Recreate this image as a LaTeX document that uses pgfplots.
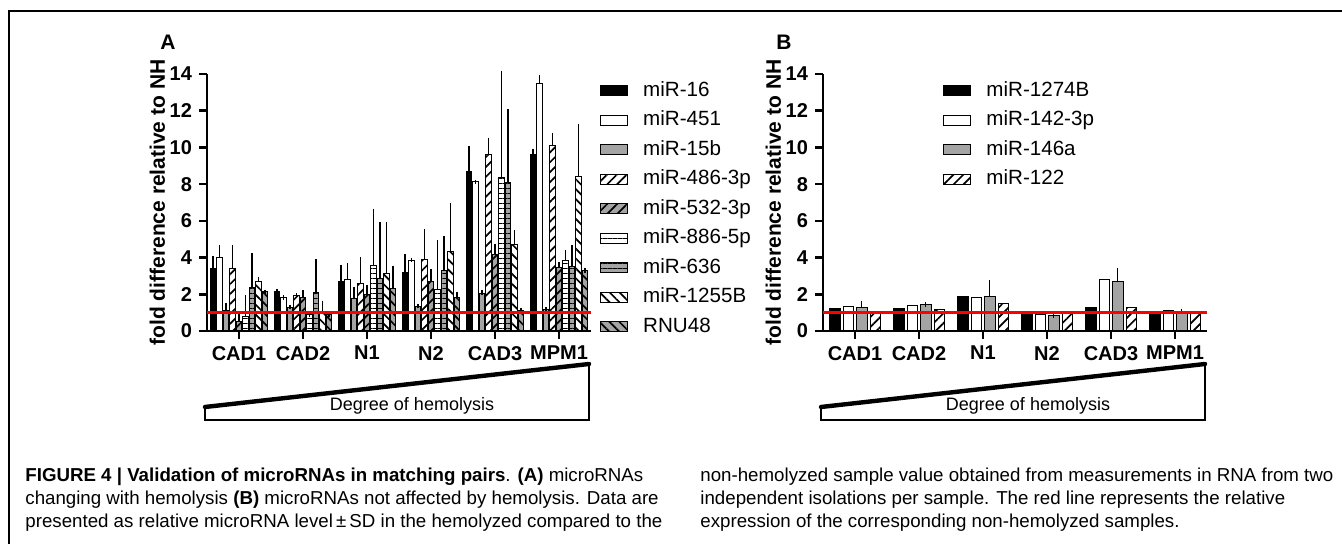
\documentclass[border=0pt]{standalone}
\usepackage{pgfplots}
\pgfplotsset{compat=1.18}
\usepackage{fontspec}
\setmainfont{Liberation Sans}
\usetikzlibrary{patterns.meta}

\definecolor{bargray}{HTML}{A4A4A4}

\pgfplotsset{
  hemo axis/.style={
    scale only axis, width=192pt, height=128.5pt, anchor=south west,
    axis lines*=left,
    axis line style={line width=1.3pt},
    xmin=-0.5, xmax=5.5, ymin=0, ymax=14,
    xtick={0,...,5}, xticklabels={CAD1,CAD2,N1,N2,CAD3,MPM1},
    ytick={0,2,...,14},
    /pgf/number format/assume math mode=true,
    tick align=outside, major tick length=4pt,
    every tick/.style={black, line width=1.3pt},
    ticklabel style={font=\fontsize{10}{12}\selectfont\bfseries},
    ylabel={fold difference relative to NH},
    ylabel style={font=\fontsize{10.5}{12}\selectfont\bfseries},
    ylabel shift=-4.5pt,
    error bars/y dir=plus, error bars/y explicit,
    error bars/error bar style={black, line width=0.6pt},
    error bars/error mark options={black, line width=0.6pt, mark size=1.1pt},
    legend style={draw=none, fill=none, anchor=north west, inner sep=0pt,
      font=\fontsize{10.3}{12}\selectfont, row sep=5.25pt,
      nodes={inner sep=0pt, text height=7.5pt, text depth=2pt},
      /tikz/every odd column/.append style={column sep=7.5pt}},
    legend cell align=left,
    clip=false,
  },
  legpatch/.style={legend image code/.code={\draw[##1] (0pt,-2.5pt) rectangle (13.5pt,2.5pt);}},
  bbase/.style={draw=black, line width=0.5pt, legpatch},
  b black/.style={bbase, fill=black},
  b white/.style={bbase, fill=white},
  b gray/.style={bbase, fill=bargray},
  b wne/.style={bbase, fill=white, postaction={pattern={Lines[angle=45,distance=3.5pt,line width=0.85pt]}}},
  b gne/.style={bbase, fill=bargray, postaction={pattern={Lines[angle=45,distance=3.5pt,line width=0.85pt]}}},
  b wh/.style={bbase, fill=white, postaction={pattern={Lines[angle=0,distance=2.5pt,line width=0.5pt]}}},
  b gh/.style={bbase, fill=bargray, postaction={pattern={Lines[angle=0,distance=2.5pt,line width=0.5pt]}}},
  b wnw/.style={bbase, fill=white, postaction={pattern={Lines[angle=-45,distance=3.5pt,line width=0.85pt]}}},
  b gnw/.style={bbase, fill=bargray, postaction={pattern={Lines[angle=-45,distance=3.5pt,line width=0.85pt]}}},
}

\begin{document}
\begin{tikzpicture}[x=0.5pt, y=0.5pt]
\path[use as bounding box] (0,0) rectangle (1342,544);
\draw[line width=0.75pt] (9,0) -- (9,533) -- (1342,533);

% panel A: microRNAs changing with hemolysis
\begin{axis}[hemo axis, at={(103.5pt,106.5pt)}, ybar=0.45pt, bar width=2.8pt,
  legend style={at={(1.023,0.973)}}]
\addplot[b black] coordinates {(0,3.40) +- (0,0.55) (1,2.15) +- (0,0.03) (2,2.70) +- (0,0.80) (3,3.18) +- (0,0.87) (4,8.68) +- (0,1.27) (5,9.59) +- (0,0.18)};
\addplot[b white] coordinates {(0,4.01) +- (0,0.55) (1,1.80) +- (0,0.03) (2,2.78) +- (0,0.78) (3,3.85) +- (0,0.03) (4,8.13) +- (0,0) (5,13.49) +- (0,0.33)};
\addplot[b gray] coordinates {(0,1.10) +- (0,0.28) (1,1.27) +- (0,0.03) (2,1.78) +- (0,0.49) (3,1.33) +- (0,0.02) (4,2.05) +- (0,0.05) (5,1.18) +- (0,0.02)};
\addplot[b wne] coordinates {(0,3.38) +- (0,1.18) (1,1.92) +- (0,0.03) (2,2.60) +- (0,1.30) (3,3.87) +- (0,1.54) (4,9.64) +- (0,0.76) (5,10.13) +- (0,0.55)};
\addplot[b gne] coordinates {(0,0.54) +- (0,0.24) (1,1.85) +- (0,0.25) (2,2.00) +- (0,0.41) (3,2.69) +- (0,0.54) (4,4.19) +- (0,0.44) (5,3.47) +- (0,0.18)};
\addplot[b wh] coordinates {(0,0.80) +- (0,1.03) (1,0.90) +- (0,0) (2,3.56) +- (0,2.99) (3,2.27) +- (0,2.56) (4,8.37) +- (0,5.70) (5,3.83) +- (0,0.45)};
\addplot[b gh] coordinates {(0,2.36) +- (0,1.78) (1,2.07) +- (0,1.71) (2,2.87) +- (0,2.96) (3,3.32) +- (0,1.76) (4,8.08) +- (0,3.90) (5,3.54) +- (0,1.02)};
\addplot[b wnw] coordinates {(0,2.72) +- (0,0.08) (1,1.00) +- (0,0.54) (2,3.14) +- (0,2.69) (3,4.32) +- (0,2.51) (4,4.70) +- (0,0.67) (5,8.44) +- (0,2.73)};
\addplot[b gnw] coordinates {(0,2.14) +- (0,0) (1,0.90) +- (0,0) (2,2.32) +- (0,1.09) (3,1.83) +- (0,0.19) (4,1.14) +- (0,0) (5,3.29) +- (0,0)};
\legend{miR-16,miR-451,miR-15b,miR-486-3p,miR-532-3p,miR-886-5p,miR-636,miR-1255B,RNU48}
\draw[red, line width=1.5pt] (axis cs:-0.5,1) -- (axis cs:5.5,1);
\end{axis}

% panel B: microRNAs not affected by hemolysis
\begin{axis}[hemo axis, at={(411.5pt,106.5pt)}, ybar=1.5pt, bar width=5.25pt,
  legend style={at={(0.3125,0.973)}}]
\addplot[b black] coordinates {(0,1.20) (1,1.23) (2,1.87) (3,0.96) (4,1.27) (5,0.98)};
\addplot[b white] coordinates {(0,1.36) (1,1.38) (2,1.85) (3,0.90) (4,2.78) (5,1.10)};
\addplot[b gray] coordinates {(0,1.27) +- (0,0.23) (1,1.42) +- (0,0.03) (2,1.90) +- (0,0.75) (3,0.82) +- (0,0.02) (4,2.72) +- (0,0.57) (5,1.07) +- (0,0)};
\addplot[b wne] coordinates {(0,0.95) (1,1.18) (2,1.50) (3,0.96) (4,1.27) (5,1.00)};
\legend{miR-1274B,miR-142-3p,miR-146a,miR-122}
\draw[red, line width=1.5pt] (axis cs:-0.5,1) -- (axis cs:5.5,1);
\end{axis}

% panel letters
\node[font=\fontsize{10.5}{12}\selectfont\bfseries] at (168,502) {A};
\node[font=\fontsize{10.5}{12}\selectfont\bfseries] at (784,502) {B};

% degree of hemolysis wedges
\foreach \x in {205,821} {
  \draw[line width=1.4pt, line join=miter] (\x+384,180) -- (\x+384,124) -- (\x,124) -- (\x,137);
  \draw[line width=2.2pt, line cap=round] (\x,137) -- (\x+384,180);
}
\node[font=\fontsize{9}{11}\selectfont] at (412,138) {Degree of hemolysis};
\node[font=\fontsize{9}{11}\selectfont] at (1028,138) {Degree of hemolysis};

% caption
\begin{scope}[every node/.style={anchor=base west, inner sep=0pt, font=\fontsize{9.35}{11.5}\selectfont}]
\node at (25,62) {\textbf{FIGURE 4 | Validation of microRNAs in matching pairs}. \textbf{(A)} microRNAs};
\node at (25,39) {changing with hemolysis \textbf{(B)} microRNAs not affected by hemolysis. Data are};
\node at (25,16) {presented as relative microRNA level\,±\,SD in the hemolyzed compared to the};
\node at (700,62) {non-hemolyzed sample value obtained from measurements in RNA from two};
\node at (700,39) {independent isolations per sample. The red line represents the relative};
\node at (700,16) {expression of the corresponding non-hemolyzed samples.};
\end{scope}
\end{tikzpicture}
\end{document}
